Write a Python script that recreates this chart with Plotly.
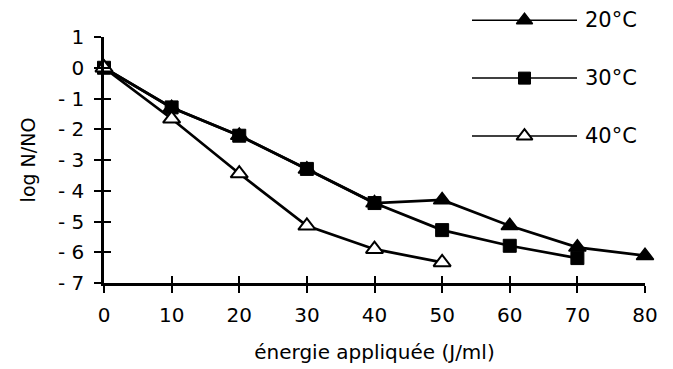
import plotly.graph_objects as go

energy = [0, 10, 20, 30, 40, 50, 60, 70, 80]
t20 = [0, -1.3, -2.2, -3.3, -4.4, -4.3, -5.14, -5.84, -6.11]
t30 = [0, -1.29, -2.21, -3.29, -4.4, -5.28, -5.79, -6.19]
t40 = [0, -1.66, -3.44, -5.14, -5.9, -6.33]
series_names = ["20°C", "30°C", "40°C"]
y_tickvals = [1, 0, -1, -2, -3, -4, -5, -6, -7]
y_ticktext = ["1", "0", "- 1", "- 2", "- 3", "- 4", "- 5", "- 6", "- 7"]
x_tickvals = [0, 10, 20, 30, 40, 50, 60, 70, 80]

FONT = "DejaVu Sans"
styles = [
    dict(symbol="triangle-up", size=15, color="black", line=dict(color="black", width=1.5)),
    dict(symbol="square", size=13, color="black", line=dict(color="black", width=1)),
    dict(symbol="triangle-up", size=15, color="white", line=dict(color="black", width=2)),
]
series = [t20, t30, t40]

fig = go.Figure()
for name, ys, st in zip(series_names, series, styles):
    fig.add_trace(go.Scatter(
        x=energy[:len(ys)], y=ys, mode="lines+markers", name=name,
        line=dict(color="black", width=2.7), marker=st, cliponaxis=False,
        showlegend=False,
    ))

# custom legend on its own small axes
legend_rows = [0.970, 0.756, 0.542]
for i, (name, st) in enumerate(zip(series_names, styles)):
    mk = dict(st)
    mk["size"] = st["size"] - 1
    fig.add_trace(go.Scatter(
        x=[0, 1], y=[legend_rows[i]] * 2, mode="lines",
        line=dict(color="black", width=1.5), xaxis="x2", yaxis="y2",
        showlegend=False, hoverinfo="skip", cliponaxis=False,
    ))
    fig.add_trace(go.Scatter(
        x=[0.5], y=[legend_rows[i]], mode="markers", marker=mk,
        xaxis="x2", yaxis="y2", showlegend=False, hoverinfo="skip", cliponaxis=False,
    ))
    fig.add_annotation(x=1, y=legend_rows[i], xref="x2", yref="y2", text=name,
                       showarrow=False, xanchor="left", xshift=6,
                       font=dict(family=FONT, size=21, color="black"))

# invisible trace for inside-tick overlay axes
fig.add_trace(go.Scatter(x=[0], y=[0], mode="markers", marker=dict(opacity=0),
                         xaxis="x3", yaxis="y3", showlegend=False, hoverinfo="skip"))

ydom = [0, (275 - 29) / 271]
fig.update_layout(
    width=665, height=361,
    margin=dict(l=96, r=28, t=4, b=86),
    paper_bgcolor="white", plot_bgcolor="rgba(0,0,0,0)",
    font=dict(family=FONT, size=20, color="black"),
    showlegend=False,
    xaxis=dict(range=[0, 80], tickvals=x_tickvals, showgrid=False, zeroline=False,
               showline=True, linecolor="black", linewidth=2.5,
               ticks="outside", ticklen=7, tickwidth=2, tickcolor="black",
               tickfont=dict(size=20), anchor="y", automargin=False,
               ticklabelstandoff=5,
               title=dict(text="énergie appliquée (J/ml)", font=dict(size=20), standoff=20)),
    yaxis=dict(range=[-7, 1], domain=ydom, tickvals=y_tickvals, ticktext=y_ticktext,
               showgrid=False, zeroline=False, showline=True, linecolor="black", linewidth=2.5,
               ticks="outside", ticklen=7, tickwidth=2, tickcolor="black",
               tickfont=dict(size=20), anchor="x", automargin=False,
               ticklabelstandoff=6,
               title=dict(text="log N/NO", font=dict(size=19), standoff=18)),
    xaxis3=dict(range=[0, 80], tickvals=x_tickvals, overlaying="x", anchor="y",
                showgrid=False, zeroline=False, showline=False, showticklabels=False,
                ticks="inside", ticklen=7, tickwidth=2, tickcolor="black"),
    yaxis3=dict(range=[-7, 1], tickvals=y_tickvals, overlaying="y", anchor="x", side="left",
                showgrid=False, zeroline=False, showline=False, showticklabels=False,
                ticks="inside", ticklen=7, tickwidth=2, tickcolor="black"),
    xaxis2=dict(domain=[(464 - 96) / 541, (569 - 96) / 541], range=[0, 1], visible=False,
                anchor="y2", fixedrange=True),
    yaxis2=dict(domain=[0, 1], range=[0, 1], visible=False, anchor="x2", fixedrange=True),
)

fig.write_html("out.html")
